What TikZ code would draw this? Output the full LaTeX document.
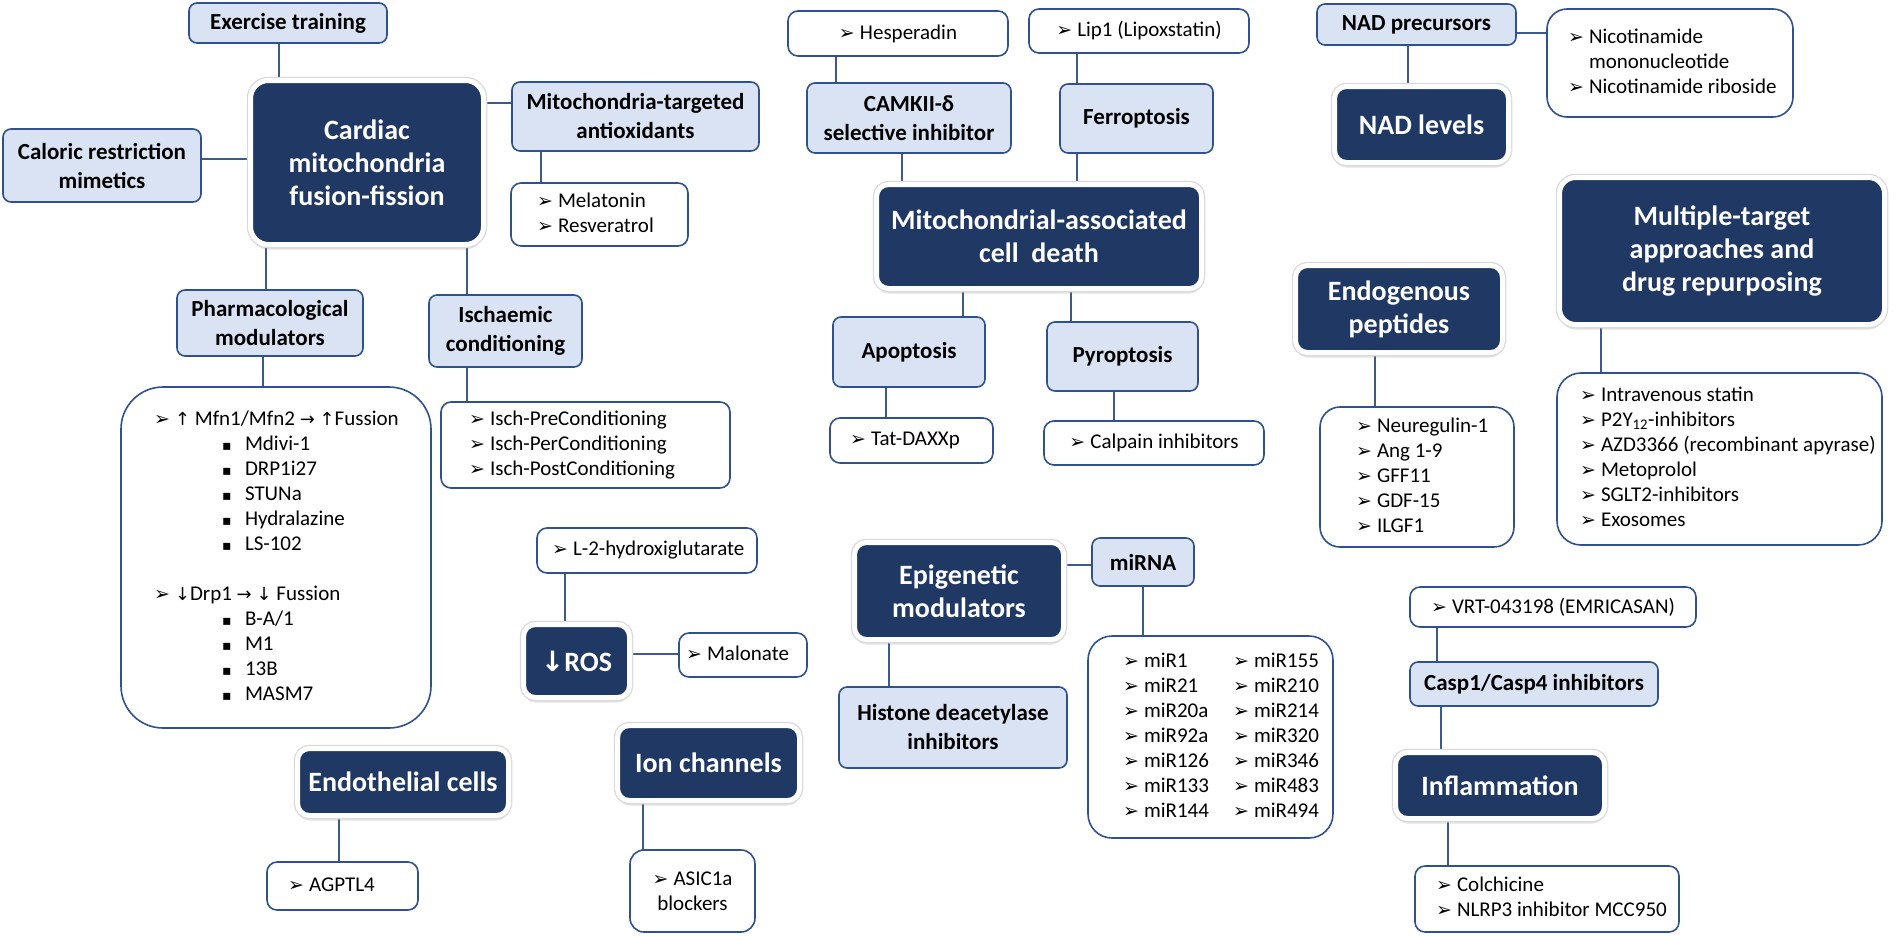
\documentclass[tikz,border=0pt]{standalone}
\usepackage{fontspec}
\setmainfont{Carlito}
\newfontfamily\dv{DejaVu Sans}
\usetikzlibrary{shadows,backgrounds}
\definecolor{navy}{HTML}{1F3864}
\definecolor{lblue}{HTML}{DAE3F3}
\definecolor{bdr}{HTML}{2F528F}
\definecolor{cnc}{HTML}{3B5B8F}
\newcommand\ar{\makebox[21pt][l]{\dv\fontsize{19}{19}\selectfont ➢}}
\newcommand\sqb{\hspace*{68pt}\makebox[23pt][l]{\dv\fontsize{14}{14}\selectfont ▪}}
\newcommand\uar{{\dv\fontsize{18}{18}\selectfont ↑}}
\newcommand\dar{{\dv\fontsize{18}{18}\selectfont ↓}}
\newcommand\rar{{\dv\fontsize{18}{18}\selectfont →}}
\newcommand\lst[2]{\makebox[#1][l]{\begin{tabular}{@{}l@{}}#2\end{tabular}}}
\begin{document}
\begin{tikzpicture}[x=1pt,y=-1pt,
  every node/.style={inner sep=0pt, outer sep=0pt},
  lb/.style={draw=bdr, line width=1.6pt, fill=lblue, rounded corners=8pt, align=center,
    font=\bfseries\fontsize{23}{29}\selectfont},
  dk/.style={draw=white, line width=5pt, fill=navy, rounded corners=12pt, align=center, text=white,
    font=\bfseries\fontsize{28}{33}\selectfont,
    drop shadow={shadow xshift=0pt, shadow yshift=-5pt, opacity=0.22},
    preaction={draw=black!15, line width=7.5pt}},
  wb/.style={draw=bdr, line width=1.6pt, fill=white, rounded corners=10pt, align=center,
    font=\fontsize{21}{25}\selectfont},
  conn/.style={draw=cnc, line width=1.5pt},
]
\useasboundingbox (0,0) rectangle (1898,935);

% dark nodes
\node[dk, minimum width=233pt, minimum height=164pt, rounded corners=18pt] (cen) at (367,162.5) {Cardiac\\mitochondria\\fusion-fission};
\node[dk, minimum width=325pt, minimum height=104pt] (death) at (1039,236.5) {Mitochondrial-associated\\cell\ \ death};
\node[dk, minimum width=174pt, minimum height=76pt] (nad) at (1421.5,124.5) {NAD levels};
\node[dk, minimum width=325pt, minimum height=147pt, rounded corners=16pt] (mul) at (1722,251) {Multiple-target\\approaches and\\drug repurposing};
\node[dk, minimum width=207pt, minimum height=87pt] (endo) at (1399,309) {Endogenous\\peptides};
\node[dk, minimum width=106pt, minimum height=73pt] (ros) at (576.5,661) {{\dv ↓}ROS};
\node[dk, minimum width=211pt, minimum height=67pt] (endc) at (403,782) {Endothelial cells};
\node[dk, minimum width=182pt, minimum height=75pt] (ion) at (708.5,763) {Ion channels};
\node[dk, minimum width=209pt, minimum height=97pt] (epi) at (959,591) {Epigenetic\\modulators};
\node[dk, minimum width=209pt, minimum height=66pt] (inf) at (1500,785.5) {Inflammation};

% light nodes
\node[lb, minimum width=198pt, minimum height=40pt] (ex) at (288,23) {Exercise training};
\node[lb, minimum width=198pt, minimum height=73pt] (cal) at (102,165.5) {Caloric restriction\\mimetics};
\node[lb, minimum width=247pt, minimum height=69pt] (mta) at (635.5,116.5) {Mitochondria-targeted\\antioxidants};
\node[lb, minimum width=186pt, minimum height=66pt] (pha) at (270,323) {Pharmacological\\modulators};
\node[lb, minimum width=153pt, minimum height=72pt] (isc) at (505.5,331) {Ischaemic\\conditioning};
\node[lb, minimum width=204pt, minimum height=70pt] (cam) at (909,118) {CAMKII-δ\\selective inhibitor};
\node[lb, minimum width=153pt, minimum height=69pt] (fer) at (1136.5,118.5) {Ferroptosis};
\node[lb, minimum width=152pt, minimum height=70pt] (apo) at (909,352) {Apoptosis};
\node[lb, minimum width=151pt, minimum height=69pt] (pyr) at (1122.5,356.5) {Pyroptosis};
\node[lb, minimum width=199pt, minimum height=41pt] (nadp) at (1416.5,24.5) {NAD precursors};
\node[lb, minimum width=102pt, minimum height=48pt] (mir) at (1143,562) {miRNA};
\node[lb, minimum width=228pt, minimum height=81pt] (his) at (953,727.5) {Histone deacetylase\\inhibitors};
\node[lb, minimum width=248pt, minimum height=44pt] (casp) at (1534,684) {Casp1/Casp4 inhibitors};

% white list nodes
\node[wb, minimum width=177pt, minimum height=63pt] (mel) at (599.5,214.5) {\lst{125pt}{\ar Melatonin\\ \ar Resveratrol}};
\node[wb, minimum width=289pt, minimum height=86pt] (ipc) at (585.5,445) {\lst{233pt}{\ar Isch-PreConditioning\\ \ar Isch-PerConditioning\\ \ar Isch-PostConditioning}};
\node[wb, minimum width=310pt, minimum height=341pt, rounded corners=42pt] (plist) at (276,557.5) {\lst{244pt}{\ar\uar\ Mfn1/Mfn2 \rar\ \uar Fussion\\ \sqb Mdivi-1\\ \sqb DRP1i27\\ \sqb STUNa\\ \sqb Hydralazine\\ \sqb LS-102\\ \\ \ar\dar Drp1 \rar\ \dar\ Fussion\\ \sqb B-A/1\\ \sqb M1\\ \sqb 13B\\ \sqb MASM7}};
\node[wb, minimum width=220pt, minimum height=45pt] (l2) at (647,550.5) {\lst{190pt}{\ar L-2-hydroxiglutarate}};
\node[wb, minimum width=128pt, minimum height=44pt] (mal) at (743,655) {\lst{114pt}{\ar Malonate}};
\node[wb, minimum width=151pt, minimum height=48pt] (agp) at (342.5,886) {\lst{109pt}{\ar AGPTL4}};
\node[wb, minimum width=125pt, minimum height=82pt, rounded corners=14pt] (asic) at (692.5,891) {\ar ASIC1a\\blockers};
\node[wb, minimum width=220pt, minimum height=45pt] (hes) at (898,33.5) {\ar Hesperadin};
\node[wb, minimum width=220pt, minimum height=44pt] (lip) at (1139,31) {\ar Lip1 (Lipoxstatin)};
\node[wb, minimum width=163pt, minimum height=45pt] (tat) at (911.5,440.5) {\lst{123pt}{\ar Tat-DAXXp}};
\node[wb, minimum width=220pt, minimum height=44pt] (calp) at (1154,443) {\ar Calpain inhibitors};
\node[wb, minimum width=246pt, minimum height=108pt, rounded corners=20pt] (nic) at (1670,63) {\lst{204pt}{\ar Nicotinamide\\ \hspace*{21pt}mononucleotide\\ \ar Nicotinamide riboside}};
\node[wb, minimum width=194pt, minimum height=140pt, rounded corners=20pt] (elist) at (1417,477) {\lst{122pt}{\ar Neuregulin-1\\ \ar Ang 1-9\\ \ar GFF11\\ \ar GDF-15\\ \ar ILGF1}};
\node[wb, minimum width=325pt, minimum height=172pt, rounded corners=24pt] (mlist) at (1719.5,459) {\lst{279pt}{\ar Intravenous statin\\ \ar P2Y\textsubscript{12}-inhibitors\\ \ar AZD3366 (recombinant apyrase)\\ \ar Metoprolol\\ \ar SGLT2-inhibitors\\ \ar Exosomes}};
\node[wb, minimum width=245pt, minimum height=202pt, rounded corners=24pt] (mirl) at (1210.5,737) {\lst{175pt}{\makebox[110pt][l]{\ar miR1}\ar miR155\\ \makebox[110pt][l]{\ar miR21}\ar miR210\\ \makebox[110pt][l]{\ar miR20a}\ar miR214\\ \makebox[110pt][l]{\ar miR92a}\ar miR320\\ \makebox[110pt][l]{\ar miR126}\ar miR346\\ \makebox[110pt][l]{\ar miR133}\ar miR483\\ \makebox[110pt][l]{\ar miR144}\ar miR494}};
\node[wb, minimum width=286pt, minimum height=40pt] (vrt) at (1553,607) {\ar VRT-043198 (EMRICASAN)};
\node[wb, minimum width=264pt, minimum height=66pt] (col) at (1547,899) {\lst{222pt}{\ar Colchicine\\ \ar NLRP3 inhibitor MCC950}};

\begin{pgfonlayer}{background}
\draw[conn] (ex.south -| 279,0) -- (cen.north -| 279,0);
\draw[conn] (cal.east |- 0,159) -- (cen.west |- 0,159);
\draw[conn] (cen.east |- 0,103) -- (mta.west |- 0,103);
\draw[conn] (mta.south -| 541,0) -- (mel.north -| 541,0);
\draw[conn] (cen.south -| 266,0) -- (pha.north -| 266,0);
\draw[conn] (cen.south -| 467,0) -- (isc.north -| 467,0);
\draw[conn] (pha.south -| 263,0) -- (plist.north -| 263,0);
\draw[conn] (isc.south -| 467,0) -- (ipc.north -| 467,0);
\draw[conn] (l2.south -| 565,0) -- (ros.north -| 565,0);
\draw[conn] (ros.east |- 0,654) -- (mal.west |- 0,654);
\draw[conn] (endc.south -| 339,0) -- (agp.north -| 339,0);
\draw[conn] (ion.south -| 643,0) -- (asic.north -| 643,0);
\draw[conn] (hes.south -| 836,0) -- (cam.north -| 836,0);
\draw[conn] (cam.south -| 902,0) -- (death.north -| 902,0);
\draw[conn] (lip.south -| 1077,0) -- (fer.north -| 1077,0);
\draw[conn] (fer.south -| 1077,0) -- (death.north -| 1077,0);
\draw[conn] (death.south -| 963,0) -- (apo.north -| 963,0);
\draw[conn] (apo.south -| 886,0) -- (tat.north -| 886,0);
\draw[conn] (death.south -| 1071,0) -- (pyr.north -| 1071,0);
\draw[conn] (pyr.south -| 1114,0) -- (calp.north -| 1114,0);
\draw[conn] (nadp.south -| 1408,0) -- (nad.north -| 1408,0);
\draw[conn] (nadp.east |- 0,33) -- (nic.west |- 0,33);
\draw[conn] (endo.south -| 1375,0) -- (elist.north -| 1375,0);
\draw[conn] (mul.south -| 1601,0) -- (mlist.north -| 1601,0);
\draw[conn] (epi.east |- 0,565) -- (mir.west |- 0,565);
\draw[conn] (mir.south -| 1143,0) -- (mirl.north -| 1143,0);
\draw[conn] (epi.south -| 889,0) -- (his.north -| 889,0);
\draw[conn] (vrt.south -| 1437,0) -- (casp.north -| 1437,0);
\draw[conn] (casp.south -| 1441,0) -- (inf.north -| 1441,0);
\draw[conn] (inf.south -| 1448,0) -- (col.north -| 1448,0);
\end{pgfonlayer}
\end{tikzpicture}
\end{document}
